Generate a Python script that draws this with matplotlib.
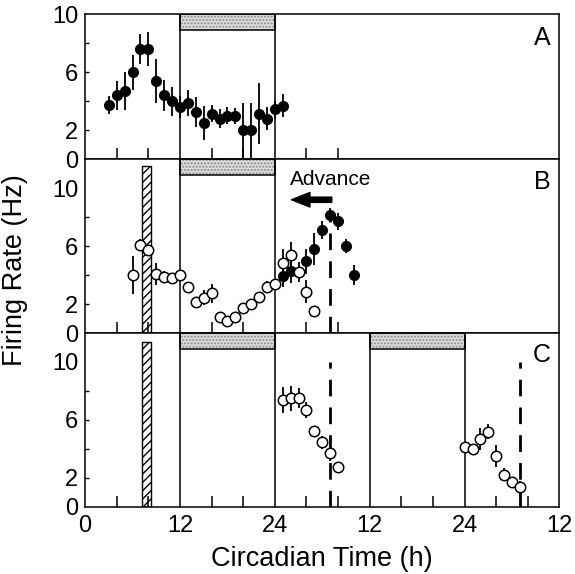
import matplotlib
matplotlib.use("Agg")
import matplotlib.pyplot as plt
import numpy as np

plt.rcParams['font.family'] = ['Liberation Sans', 'DejaVu Sans']

# panel A : intact rhythm (filled)
a_ct = np.arange(3, 26)
a_rate = [3.75, 4.4, 4.7, 6.0, 7.6, 7.6, 5.4, 4.4, 4.0, 3.6, 3.85, 3.25,
          2.5, 3.15, 2.8, 3.0, 3.0, 2.0, 2.0, 3.15, 2.8, 3.45, 3.7]
a_err = [0.6, 1.0, 1.3, 1.2, 1.05, 1.15, 1.55, 1.05, 1.0, 0.75, 0.9, 1.05,
         1.15, 0.6, 0.65, 0.6, 0.55, 1.9, 1.9, 2.1, 0.8, 0.6, 0.8]

# panel B : after pulse (open) vs control (filled)
b_open_ct = np.arange(6, 30)
b_open_rate = [4.0, 6.1, 5.75, 4.05, 3.85, 3.8, 4.0, 3.2, 2.15, 2.45, 2.75, 1.1,
               0.8, 1.1, 1.75, 2.0, 2.5, 3.2, 3.4, 4.8, 5.4, 4.2, 2.85, 1.55]
b_open_err = [1.3, 0.4, 0.35, 0.75, 0.4, 0.3, 0.3, 0.2, 0.35, 0.5, 0.65, 0.35,
              0.2, 0.3, 0.35, 0.3, 0.3, 0.4, 0.3, 1.0, 0.9, 0.7, 0.8, 0.3]
b_fill_ct = [25, 26, 28, 29, 30, 31, 32, 33, 34]
b_fill_rate = [3.95, 4.25, 4.95, 5.8, 7.1, 8.15, 7.7, 6.0, 4.0]
b_fill_err = [0.75, 0.8, 0.85, 1.1, 0.6, 0.5, 0.6, 0.5, 0.7]

# panel C : two days after pulse
c1_ct = np.arange(25, 33)
c1_rate = [7.35, 7.5, 7.5, 6.7, 5.25, 4.45, 3.75, 2.75]
c1_err = [0.9, 0.85, 0.7, 0.55, 0.35, 0.45, 0.6, 0.1]
c2_ct = np.arange(48, 56)
c2_rate = [4.15, 4.0, 4.7, 5.2, 3.5, 2.2, 1.7, 1.35]
c2_err = [0.2, 0.2, 0.75, 0.5, 0.75, 0.45, 0.35, 0.4]

dark_A = [(12, 24)]
dark_C = [(12, 24), (36, 48)]
pulse = (7.2, 8.3)
peak_B = 31
peaks_C = [31, 55]

xt_labels = ['0', '12', '24', '12', '24', '12']

fig = plt.figure(figsize=(5.75, 5.74), dpi=100)
gs = fig.add_gridspec(3, 1, height_ratios=[10, 12, 12], hspace=0,
                      left=0.148, right=0.973, top=0.975, bottom=0.117)
axA = fig.add_subplot(gs[0])
axB = fig.add_subplot(gs[1])
axC = fig.add_subplot(gs[2])


def style(ax, ymax, xt, labels=False):
    ax.set_xlim(0, 60)
    ax.set_ylim(0, ymax)
    for s in ax.spines.values():
        s.set_linewidth(1.1)
    ax.yaxis.remove_overlapping_locs = False
    ax.set_yticks([2, 4, 6, 8])
    ax.set_yticks([0, 2, 6, 10], minor=True)
    ax.set_yticklabels([])
    ax.set_yticklabels(['0', '2', '6', '10'], minor=True)
    ax.tick_params(axis='y', which='major', direction='in', length=3, width=1)
    ax.tick_params(axis='y', which='minor', length=0, labelsize=17, pad=5)
    ax.set_xticks(xt)
    ax.set_xticklabels([])
    ax.tick_params(axis='x', which='major', direction='in', length=8, width=1.1)
    if labels:
        ax.set_xticks([0, 12, 24, 36, 48, 60], minor=True)
        ax.set_xticklabels(xt_labels, minor=True)
        ax.tick_params(axis='x', which='minor', length=0, labelsize=17, pad=6)


def dark_bar(ax, periods, lo, hi):
    for s, e in periods:
        ax.fill_between([s, e], lo, hi, facecolor='#dcdcdc', hatch='.....',
                        edgecolor='#8a8a8a', linewidth=0)
        ax.fill_between([s, e], lo, hi, facecolor='none', edgecolor='black', linewidth=1.1)


def pulse_bar(ax, top):
    ax.fill_between(list(pulse), 0, top, facecolor='white', hatch='////',
                    edgecolor='black', linewidth=1.0)


eb = dict(fmt='o', color='black', elinewidth=1.3, capsize=0, zorder=4)
fill_kw = dict(ms=7)
open_kw = dict(ms=7.5, mfc='white', mec='black', mew=1.1)

# A
style(axA, 10, [4, 8, 16, 20, 28, 32])
dark_bar(axA, dark_A, 8.9, 10)
for x in [12, 24]:
    axA.axvline(x, color='black', lw=1.1)
axA.errorbar(a_ct, a_rate, yerr=a_err, **eb, **fill_kw)
axA.text(57.8, 8.4, 'A', fontsize=18, ha='center', va='center')

# B
style(axB, 12, [4, 8, 16, 20, 28, 32])
dark_bar(axB, dark_A, 10.9, 12)
for x in [12, 24]:
    axB.axvline(x, color='black', lw=1.1)
pulse_bar(axB, 11.5)
axB.vlines(peak_B, 0, 7.9, color='black', lw=2, linestyles=[(0, (6, 4))])
axB.errorbar(b_fill_ct, b_fill_rate, yerr=b_fill_err, **eb, **fill_kw)
axB.errorbar(b_open_ct, b_open_rate, yerr=b_open_err, **eb, **open_kw)
axB.text(25.9, 10.6, 'Advance', fontsize=15, ha='left', va='center')
axB.annotate('', xy=(26.1, 9.2), xytext=(31.2, 9.2),
             arrowprops=dict(arrowstyle='simple,head_width=0.55,head_length=0.7,tail_width=0.2',
                             mutation_scale=19, color='black', shrinkA=0, shrinkB=0))
axB.text(57.8, 10.4, 'B', fontsize=18, ha='center', va='center')

# C
style(axC, 12, [4, 8, 16, 20, 28, 32, 40, 44, 52, 56], labels=True)
dark_bar(axC, dark_C, 10.9, 12)
for x in [12, 24, 36, 48]:
    axC.axvline(x, color='black', lw=1.1)
pulse_bar(axC, 11.4)
axC.vlines(peaks_C, 0, 10, color='black', lw=2, linestyles=[(0, (6, 4))])
axC.errorbar(c1_ct, c1_rate, yerr=c1_err, **eb, **open_kw)
axC.errorbar(c2_ct, c2_rate, yerr=c2_err, **eb, **open_kw)
axC.text(57.7, 10.5, 'C', fontsize=18, ha='center', va='center')

axC.set_xlabel('Circadian Time (h)', fontsize=19.5, labelpad=6)
fig.text(0.026, 0.53, 'Firing Rate (Hz)', fontsize=19.5, rotation=90,
         ha='center', va='center')

fig.savefig('out.png', dpi=100)
